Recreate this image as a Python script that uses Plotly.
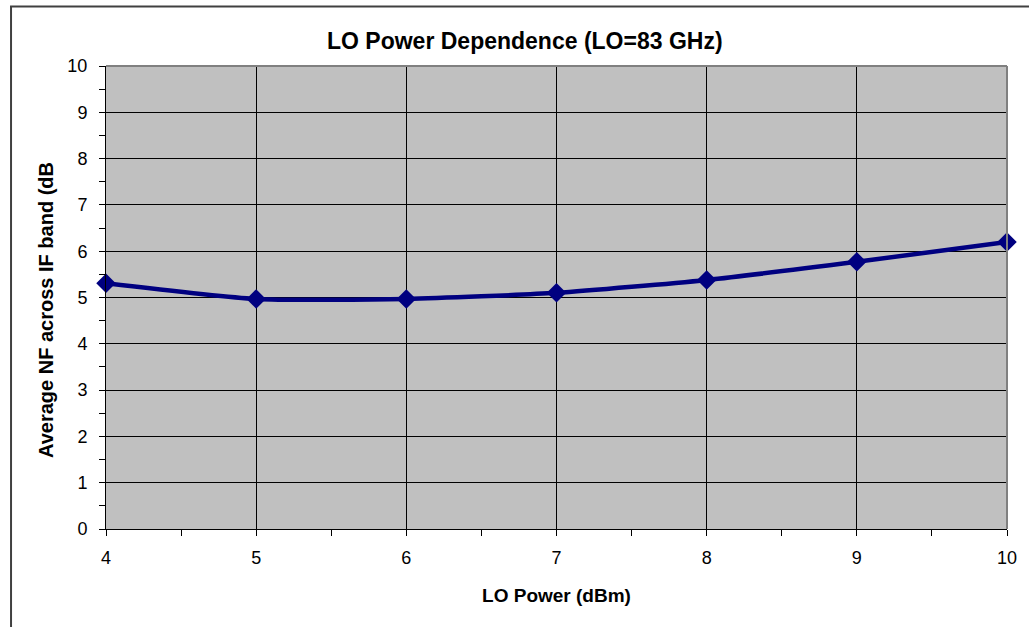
import plotly.graph_objects as go

# LO power sweep and the resulting average noise figure
lo_power_dbm = [4, 5, 6, 7, 8, 9, 10]
avg_nf_db = [5.31, 4.97, 4.97, 5.10, 5.38, 5.77, 6.20]

x_ticks = [4, 5, 6, 7, 8, 9, 10]
y_ticks = [0, 1, 2, 3, 4, 5, 6, 7, 8, 9, 10]

FONT = "Liberation Sans, Arial, sans-serif"

fig = go.Figure()
fig.add_trace(go.Scatter(
    x=lo_power_dbm, y=avg_nf_db,
    mode="lines+markers",
    line=dict(color="#000080", width=4.5, shape="spline", smoothing=0.6),
    marker=dict(symbol="diamond", size=15, color="#000080"),
    showlegend=False, cliponaxis=False,
))

axis_common = dict(
    showline=True, linecolor="black", linewidth=1,
    ticks="outside", ticklen=6, tickcolor="black", tickwidth=1,
    showgrid=True, gridcolor="black", gridwidth=1,
    zeroline=False,
    tickfont=dict(family=FONT, size=18, color="black"),
)

fig.update_xaxes(
    range=[4, 10], tickvals=x_ticks, ticklabelstandoff=6,
    minor=dict(ticks="outside", ticklen=6, tickcolor="black", dtick=0.5, showgrid=False),
    title=dict(text="<b>LO Power (dBm)</b>", font=dict(family=FONT, size=19, color="black"), standoff=22),
    **axis_common,
)
fig.update_yaxes(
    range=[0, 10], tickvals=y_ticks, ticklabelstandoff=8,
    minor=dict(ticks="outside", ticklen=6, tickcolor="black", dtick=0.5, showgrid=False),
    **axis_common,
)

# y-axis title placed as a rotated annotation
fig.add_annotation(
    text="<b>Average NF across IF band (dB</b>", textangle=-90,
    xref="paper", yref="paper", x=-0.0666, y=0.473,
    xanchor="center", yanchor="middle", showarrow=False,
    font=dict(family=FONT, size=20, color="black"),
)

# grey frame on the top and right of the plotting area
fig.add_shape(type="line", xref="x domain", yref="y domain", x0=0, x1=1, y0=1, y1=1,
              line=dict(color="#808080", width=2), layer="above")
fig.add_shape(type="line", xref="x domain", yref="y domain", x0=1, x1=1, y0=0, y1=1,
              line=dict(color="#808080", width=2), layer="above")

# chart border (left and top edges)
fig.add_shape(type="line", xref="paper", yref="paper", x0=-0.1054, x1=-0.1054, y0=-0.3, y1=1.1296,
              line=dict(color="#404040", width=2), layer="above")
fig.add_shape(type="line", xref="paper", yref="paper", x0=-0.1065, x1=1.1, y0=1.1285, y1=1.1285,
              line=dict(color="#404040", width=2), layer="above")

fig.update_layout(
    width=1029, height=627,
    margin=dict(l=106, r=22, t=66, b=98),
    paper_bgcolor="white", plot_bgcolor="#C0C0C0",
    title=dict(text="<b>LO Power Dependence (LO=83 GHz)</b>", x=0.51, xanchor="center",
               xref="container", y=0.935, yanchor="middle", yref="container",
               font=dict(family=FONT, size=23, color="black")),
)

fig.write_html("out.html")
